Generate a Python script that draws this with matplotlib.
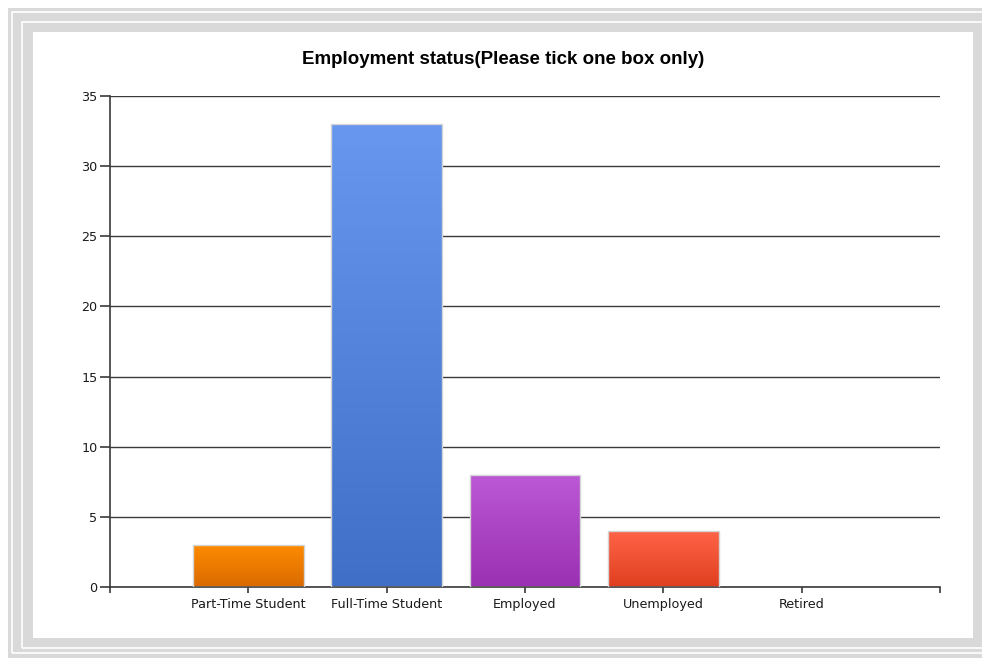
import matplotlib.pyplot as plt
import matplotlib.patches as mpatches
from matplotlib.colors import LinearSegmentedColormap
import numpy as np

categories = ["Part-Time Student", "Full-Time Student", "Employed", "Unemployed", "Retired"]
counts = [3, 33, 8, 4, 0]
# top / bottom colour of each bar's vertical gradient
top_colors = ["#ff8c00", "#6797ee", "#bc58d5", "#ff6448", "#8fbc8f"]
bottom_colors = ["#d96a00", "#3f6fc6", "#9a30b2", "#df3f1f", "#6a9a6a"]
y_ticks = [0, 5, 10, 15, 20, 25, 30, 35]

W, H = 982, 658
fig = plt.figure(figsize=(W / 100, H / 100), dpi=100)
fig.patch.set_facecolor("white")


def px_rect(x0, y0, x1, y1, **kw):
    # rectangle given in pixel coordinates measured from the top left
    r = mpatches.Rectangle((x0 / W, 1 - y1 / H), (x1 - x0) / W, (y1 - y0) / H,
                           transform=fig.transFigure, zorder=-5, **kw)
    fig.patches.append(r)


# grey frame with thin white inner lines
px_rect(8, 8, W + 5, H + 5, facecolor="#d9d9d9", edgecolor="none")
px_rect(11.5, 11.5, W + 5, 652.5, facecolor="none", edgecolor="white", linewidth=1.2)
px_rect(22, 22, W + 5, 647.5, facecolor="none", edgecolor="white", linewidth=1.2)
px_rect(33, 32, 973, 638, facecolor="white", edgecolor="none")

ax = fig.add_axes([110 / W, 1 - 587 / H, (940 - 110) / W, (587 - 96) / H])
ax.set_facecolor("none")

x = np.arange(1, len(categories) + 1)
bars = ax.bar(x, counts, width=0.8, color="none", edgecolor="#d4d4d4",
              linewidth=1.0, zorder=3)

for bar, c_top, c_bot in zip(bars, top_colors, bottom_colors):
    h = bar.get_height()
    if h <= 0:
        bar.set_linewidth(0)
        continue
    cmap = LinearSegmentedColormap.from_list("g", [c_bot, c_top])
    grad = np.linspace(0, 1, 256).reshape(-1, 1)
    x0 = bar.get_x()
    im = ax.imshow(grad, cmap=cmap, origin="lower", aspect="auto",
                   extent=(x0, x0 + bar.get_width(), 0, h), zorder=2)
    im.set_clip_path(bar)

ax.set_xlim(0, len(categories) + 1)
ax.set_ylim(0, 35)
ax.set_yticks(y_ticks)
ax.set_xticks(x)
ax.set_xticklabels(categories)
ax.set_xticks([0, len(categories) + 1], minor=True)

ax.grid(axis="y", color="#3a3a3a", linewidth=1.0, zorder=1)
ax.set_axisbelow(True)
for side in ["top", "right"]:
    ax.spines[side].set_visible(False)
for side in ["left", "bottom"]:
    ax.spines[side].set_color("#3a3a3a")
    ax.spines[side].set_linewidth(1.2)

ax.tick_params(axis="both", which="both", colors="#3a3a3a", width=1.2,
               labelsize=9.2, labelcolor="#1a1a1a")
ax.tick_params(axis="x", which="both", length=4.5, pad=3.5)
ax.tick_params(axis="y", length=7, pad=2)

fig.text(503 / W, 1 - 59 / H, "Employment status(Please tick one box only)",
         ha="center", va="center", fontsize=13.5, fontweight="bold",
         family="Liberation Sans", color="#000000")

fig.savefig("out.png", dpi=100, facecolor=fig.get_facecolor())
